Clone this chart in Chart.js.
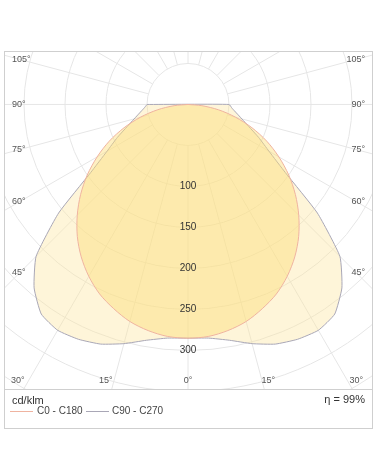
<!DOCTYPE html>
<html>
<head>
<meta charset="utf-8">
<style>
  html, body { margin: 0; padding: 0; background: #fff; }
  canvas { display: block; }
</style>
<script src="https://cdn.jsdelivr.net/npm/chart.js@4/dist/chart.umd.min.js"></script>
</head>
<body>
<canvas id="ldc" width="378" height="472"></canvas>
<script>
/* polar light distribution — cd/klm, C0-C180 vs C90-C270 */

var GAMMA    = [0, 5, 10, 15, 20, 25, 30, 35, 40, 45, 50, 55, 60, 65, 70, 75, 80, 85, 90];
var C0_C180  = [285, 284, 280, 274, 265, 255, 242, 227, 210, 191, 171, 150, 128, 106, 83, 60, 38, 17, 0];
var C90_C270 = [285, 286, 292, 302, 311, 316, 318, 312, 292, 262, 206, 145, 114, 95, 79, 68, 60, 54, 50];

var RING_TICKS   = [100, 150, 200, 250, 300];
var SIDE_TICKS   = [45, 60, 75, 90, 105];
var BOTTOM_TICKS = [0, 15, 30];
var UNIT = 'cd/klm';
var ETA  = '\u03b7 = 99%';

var FONT = "'Liberation Sans', Arial, sans-serif";

/* symmetric curve: left half (C180 / C270) then right half, closed */
function toXY(vals) {
  var pts = [];
  var i, g;
  for (i = GAMMA.length - 1; i >= 0; i--) {
    g = -GAMMA[i] * Math.PI / 180;
    pts.push({ x: vals[i] * Math.sin(g), y: -vals[i] * Math.cos(g) });
  }
  for (i = 1; i < GAMMA.length; i++) {
    g = GAMMA[i] * Math.PI / 180;
    pts.push({ x: vals[i] * Math.sin(g), y: -vals[i] * Math.cos(g) });
  }
  pts.push({ x: pts[0].x, y: pts[0].y });
  return pts;
}

/* grid under the fills: rings every 50, spokes every 15 deg */
var polarGrid = {
  id: 'polarGrid',
  beforeDatasetsDraw: function (chart) {
    var ctx = chart.ctx, a = chart.chartArea;
    var xs = chart.scales.x, ys = chart.scales.y;
    var cx = xs.getPixelForValue(0), cy = ys.getPixelForValue(0);
    var k = xs.getPixelForValue(100) - cx;
    ctx.save();
    ctx.beginPath(); ctx.rect(a.left, a.top, a.right - a.left, a.bottom - a.top); ctx.clip();
    ctx.strokeStyle = '#e6e6e6'; ctx.lineWidth = 1;
    for (var r = 50; r <= 450; r += 50) {
      ctx.beginPath(); ctx.arc(cx, cy, r * k / 100, 0, Math.PI * 2); ctx.stroke();
    }
    for (var d = 0; d < 360; d += 15) {
      var t = d * Math.PI / 180;
      ctx.beginPath();
      ctx.moveTo(cx + Math.sin(t) * 50 * k / 100, cy + Math.cos(t) * 50 * k / 100);
      ctx.lineTo(cx + Math.sin(t) * 600 * k / 100, cy + Math.cos(t) * 600 * k / 100);
      ctx.stroke();
    }
    ctx.restore();
  },
  afterDatasetsDraw: function (chart) {
    var ctx = chart.ctx, a = chart.chartArea;
    var xs = chart.scales.x, ys = chart.scales.y;
    var cx = xs.getPixelForValue(0), cy = ys.getPixelForValue(0);

    ctx.save();
    /* ring values down the 0 deg axis */
    ctx.font = '10px ' + FONT; ctx.fillStyle = '#333';
    ctx.textAlign = 'center'; ctx.textBaseline = 'middle';
    RING_TICKS.forEach(function (v) {
      ctx.fillText(String(v), cx, ys.getPixelForValue(-v));
    });

    /* angle labels at the frame */
    ctx.font = '9px ' + FONT; ctx.fillStyle = '#555';
    var d = cx - (a.left + 16);
    SIDE_TICKS.forEach(function (g) {
      var y = cy + d / Math.tan(g * Math.PI / 180);
      ctx.textAlign = 'left';  ctx.fillText(g + '\u00b0', a.left + 8, y);
      ctx.textAlign = 'right'; ctx.fillText(g + '\u00b0', a.right - 7, y);
    });
    var yb = a.bottom - 8;
    ctx.textAlign = 'center';
    BOTTOM_TICKS.forEach(function (g) {
      var off = (a.bottom - cy) * Math.tan(g * Math.PI / 180);
      if (g === 0) { ctx.fillText('0\u00b0', cx, yb); return; }
      ctx.fillText(g + '\u00b0', cx - off - 6, yb);
      ctx.fillText(g + '\u00b0', cx + off + 4, yb);
    });
    ctx.restore();
  },
  afterDraw: function (chart) {
    var ctx = chart.ctx, a = chart.chartArea;
    ctx.save();
    /* frame + separator */
    ctx.strokeStyle = '#cfcfcf'; ctx.lineWidth = 1;
    ctx.strokeRect(a.left + 0.5, a.top + 0.5, a.right - a.left, 428 - a.top);
    ctx.beginPath(); ctx.moveTo(a.left, a.bottom + 0.5); ctx.lineTo(a.right, a.bottom + 0.5); ctx.stroke();

    /* legend */
    var ds = chart.data.datasets;
    ctx.textBaseline = 'middle'; ctx.textAlign = 'left';
    ctx.fillStyle = '#333'; ctx.font = '11px ' + FONT;
    ctx.fillText(UNIT, 12, 401);
    ctx.font = '10px ' + FONT; ctx.fillStyle = '#444';
    ctx.lineWidth = 1;
    ctx.strokeStyle = ds[0].borderColor;
    ctx.beginPath(); ctx.moveTo(10, 411.5); ctx.lineTo(33, 411.5); ctx.stroke();
    ctx.fillText(ds[0].label, 37, 411);
    ctx.strokeStyle = ds[1].borderColor;
    ctx.beginPath(); ctx.moveTo(86, 411.5); ctx.lineTo(109, 411.5); ctx.stroke();
    ctx.fillText(ds[1].label, 112, 411);
    ctx.textAlign = 'right'; ctx.font = '11px ' + FONT; ctx.fillStyle = '#333';
    ctx.fillText(ETA, 365, 400);
    ctx.restore();
  }
};

new Chart(document.getElementById('ldc'), {
  type: 'scatter',
  data: {
    datasets: [
      { label: 'C0 - C180', data: toXY(C0_C180), showLine: true, fill: 'shape',
        borderColor: '#efb3a0', backgroundColor: 'rgba(253,222,120,0.45)',
        borderWidth: 1, pointRadius: 0, tension: 0.3 },
      { label: 'C90 - C270', data: toXY(C90_C270), showLine: true, fill: 'shape',
        borderColor: '#a9a7b6', backgroundColor: 'rgba(252,230,160,0.4)',
        borderWidth: 1, pointRadius: 0, tension: 0.15 }
    ]
  },
  plugins: [polarGrid],
  options: {
    responsive: false,
    animation: false,
    layout: { padding: { left: 4, top: 51, right: 6, bottom: 83 } },
    plugins: { legend: { display: false }, tooltip: { enabled: false } },
    scales: {
      x: { type: 'linear', display: false, min: -224.4, max: 224.4 },
      y: { type: 'linear', display: false, min: -347, max: 65.2 }
    }
  }
});
</script>
</body>
</html>
